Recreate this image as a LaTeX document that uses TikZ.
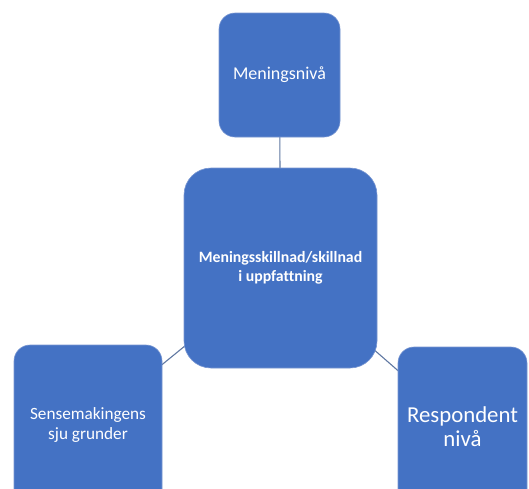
\documentclass[tikz,border=0pt]{standalone}
\usepackage{fontspec}
\setmainfont[Ligatures=NoCommon]{Carlito}
\usetikzlibrary{backgrounds}
\definecolor{boxblue}{RGB}{68,114,196}
\definecolor{boxedge}{RGB}{120,150,210}
\definecolor{linkgray}{RGB}{96,120,162}
\tikzset{
	bluebox/.style={draw=boxedge, line width=0.6pt, fill=boxblue, text=white,
		align=center, inner sep=0pt, rounded corners=16pt},
	link/.style={draw=linkgray, line width=1.1pt}
}
\begin{document}
\begin{tikzpicture}[x=1pt, y=-1pt]
	\clip (0,0) rectangle (529,488);
	% Boxes
	\node [bluebox, minimum width=121pt, minimum height=124pt, font=\fontsize{18}{21}\selectfont]
		(niva) at (279.5,75) {Meningsnivå};
	\node [bluebox, minimum width=193pt, minimum height=200pt, rounded corners=27pt,
		font=\fontsize{15.8}{19}\selectfont\bfseries]
		(mid) at (280.5,268) {Meningsskillnad/skillnad\\i uppfattning};
	\node [bluebox, minimum width=148pt, minimum height=160pt, font=\fontsize{17.2}{19.5}\selectfont]
		(sju) at (88,425) {Sensemakingens\\sju grunder};
	\node [bluebox, minimum width=129pt, minimum height=160pt, font=\fontsize{22.8}{24}\selectfont]
		(resp) at (462.5,427) {Respondent\\nivå};
	% Links
	\begin{scope}[on background layer]
		\fill [white] (0,0) rectangle (529,488);
		\draw [link] (niva.center) -- (mid.center);
		\draw [link] (mid.center) -- (sju.center);
		\draw [link] (mid.center) -- (resp.center);
	\end{scope}
\end{tikzpicture}
\end{document}
